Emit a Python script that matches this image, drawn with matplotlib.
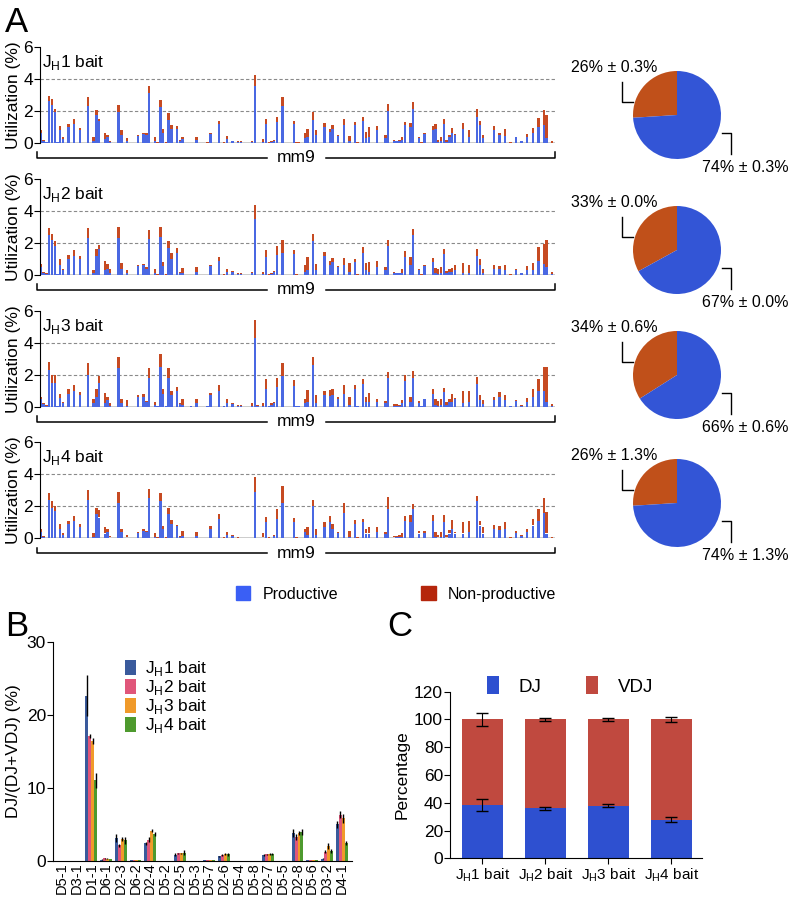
import numpy as np
import matplotlib.pyplot as plt
from matplotlib.patches import Patch

plt.rcParams['font.family'] = ['Liberation Sans', 'DejaVu Sans']
plt.rcParams['mathtext.fontset'] = 'custom'
plt.rcParams['mathtext.rm'] = 'Liberation Sans'

# ---- panel A: V gene utilization (order along mm9 locus) ----
v_slots = [0, 1, 2, 3, 4, 5, 6, 7, 8, 10,
           12, 14, 17, 19, 20, 21, 23, 24, 25, 28,
           29, 31, 35, 37, 38, 39, 41, 42, 43, 44,
           45, 46, 47, 49, 50, 51, 54, 56, 60, 61,
           64, 66, 67, 69, 71, 72, 76, 77, 78, 80,
           81, 82, 83, 84, 85, 87, 91, 92, 93, 95,
           96, 98, 99, 102, 104, 105, 107, 109, 111, 113,
           114, 116, 117, 118, 121, 124, 125, 127, 128, 129,
           130, 131, 133, 134, 136, 137, 138, 141, 142, 143,
           144, 145, 146, 147, 148, 149, 152, 154, 157, 158,
           159, 163, 165, 167, 169, 171, 173, 175, 177, 179,
           181, 182, 184]

total_jh1 = [0.8, 0.2, 0.05, 2.95, 2.75, 2.15, 0.05, 1.05, 0.35, 1.2,
             1.5, 0.95, 2.85, 0.35, 2.05, 1.5, 0.65, 0.5, 0.15, 2.4,
             0.8, 0.3, 0.5, 0.6, 0.6, 3.55, 0.4, 0.05, 2.7, 0.85,
             0.05, 1.85, 1.1, 1.05, 0.2, 0.4, 0.02, 0.4, 0.05, 0.65,
             1.4, 0.05, 0.45, 0.15, 0.1, 0.12, 0.15, 4.25, 0.02, 0.25,
             1.5, 0.05, 0.1, 0.2, 1.6, 2.9, 1.4, 0.05, 0.05, 0.6,
             0.9, 1.95, 0.8, 1.25, 0.9, 1.1, 0.5, 1.5, 0.45, 1.3,
             0.05, 1.65, 0.7, 1.0, 1.05, 0.5, 2.45, 0.2, 0.15, 0.2,
             0.4, 1.3, 1.25, 2.55, 0.4, 0.05, 0.6, 1.05, 1.2, 0.2,
             0.4, 1.5, 0.2, 0.5, 0.95, 0.55, 1.25, 0.8, 2.1, 1.4,
             0.5, 1.05, 0.65, 0.85, 0.05, 0.4, 0.15, 0.55, 0.95, 1.55,
             2.05, 1.75, 0.15]
prod_jh1 = [0.6, 0.15, 0.05, 2.6, 2.4, 1.95, 0.05, 0.8, 0.25, 1.0,
            1.2, 0.8, 2.3, 0.1, 1.75, 1.35, 0.25, 0.4, 0.05, 1.95,
            0.5, 0.1, 0.45, 0.55, 0.5, 3.1, 0.1, 0.03, 2.25, 0.6,
            0.03, 1.45, 0.9, 0.85, 0.15, 0.25, 0.02, 0.2, 0.03, 0.55,
            1.2, 0.03, 0.25, 0.15, 0.05, 0.05, 0.05, 3.55, 0.02, 0.05,
            1.2, 0.03, 0.05, 0.15, 1.3, 2.3, 1.2, 0.03, 0.03, 0.3,
            0.4, 1.45, 0.5, 1.0, 0.7, 0.9, 0.45, 1.15, 0.1, 1.1,
            0.03, 1.35, 0.3, 0.4, 0.8, 0.3, 2.0, 0.1, 0.1, 0.1,
            0.2, 1.1, 1.0, 2.1, 0.3, 0.03, 0.55, 0.8, 0.9, 0.05,
            0.1, 1.2, 0.05, 0.4, 0.6, 0.5, 0.9, 0.35, 1.6, 1.1,
            0.3, 0.8, 0.5, 0.45, 0.03, 0.35, 0.1, 0.35, 0.6, 1.0,
            1.1, 0.3, 0.02]

total_jh2 = [0.7, 0.2, 0.1, 2.95, 2.55, 2.1, 0.05, 1.0, 0.4, 1.25,
             1.55, 1.2, 2.95, 0.3, 1.6, 1.9, 0.9, 0.7, 0.4, 3.0,
             0.75, 0.3, 0.65, 0.7, 0.5, 2.8, 0.35, 0.05, 3.0, 0.8,
             0.04, 2.15, 1.35, 1.7, 0.2, 0.45, 0.02, 0.5, 0.02, 0.6,
             1.15, 0.05, 0.4, 0.25, 0.1, 0.15, 0.2, 4.4, 0.02, 0.2,
             1.55, 0.05, 0.1, 0.25, 1.8, 2.2, 1.55, 0.05, 0.03, 0.6,
             1.1, 2.55, 0.7, 1.45, 0.85, 1.05, 0.55, 1.05, 0.75, 1.0,
             0.05, 1.75, 0.75, 0.8, 0.85, 0.5, 2.2, 0.2, 0.15, 0.15,
             0.35, 1.5, 1.15, 2.9, 0.4, 0.05, 0.6, 1.05, 0.45, 0.35,
             0.5, 1.6, 0.25, 0.4, 0.45, 0.6, 0.75, 0.65, 1.6, 1.0,
             0.35, 0.65, 0.55, 0.6, 0.05, 0.4, 0.15, 0.55, 0.75, 1.75,
             1.95, 2.2, 0.2]
prod_jh2 = [0.5, 0.15, 0.05, 2.5, 2.2, 1.8, 0.05, 0.65, 0.3, 1.0,
            1.2, 1.0, 2.3, 0.1, 1.2, 1.6, 0.3, 0.4, 0.1, 2.3,
            0.4, 0.1, 0.55, 0.6, 0.4, 2.25, 0.1, 0.03, 2.4, 0.55,
            0.02, 1.7, 1.0, 1.35, 0.15, 0.1, 0.02, 0.2, 0.02, 0.55,
            0.9, 0.03, 0.2, 0.2, 0.05, 0.05, 0.1, 3.5, 0.02, 0.05,
            1.15, 0.03, 0.05, 0.2, 1.25, 1.4, 1.3, 0.03, 0.02, 0.2,
            0.3, 2.1, 0.3, 1.2, 0.6, 0.8, 0.5, 0.6, 0.2, 0.8,
            0.03, 1.4, 0.3, 0.2, 0.5, 0.3, 1.8, 0.1, 0.1, 0.1,
            0.1, 1.1, 0.6, 2.5, 0.3, 0.03, 0.55, 0.8, 0.1, 0.05,
            0.1, 1.3, 0.1, 0.2, 0.2, 0.3, 0.1, 0.1, 1.2, 0.6,
            0.1, 0.4, 0.4, 0.3, 0.03, 0.3, 0.1, 0.3, 0.3, 0.9,
            0.7, 0.5, 0.05]

total_jh3 = [0.6, 0.2, 0.1, 2.8, 2.0, 1.95, 0.05, 0.8, 0.3, 1.1,
             1.35, 0.9, 2.7, 0.5, 1.1, 1.9, 0.85, 0.6, 0.25, 3.1,
             0.5, 0.4, 0.75, 0.8, 0.35, 2.4, 0.3, 0.05, 3.3, 1.1,
             0.05, 2.45, 1.0, 1.25, 0.2, 0.45, 0.02, 0.5, 0.03, 0.85,
             1.35, 0.05, 0.45, 0.2, 0.08, 0.12, 0.2, 5.45, 0.1, 0.25,
             1.7, 0.05, 0.2, 0.3, 1.8, 2.7, 1.65, 0.05, 0.03, 0.5,
             1.05, 3.1, 0.7, 1.0, 1.05, 1.1, 0.6, 1.35, 0.6, 1.35,
             0.05, 1.7, 0.6, 0.85, 0.5, 0.35, 2.15, 0.15, 0.15, 0.12,
             0.4, 2.0, 0.6, 2.25, 0.35, 0.05, 0.5, 1.1, 0.5, 0.35,
             0.5, 1.15, 0.3, 0.5, 0.8, 0.55, 1.0, 0.95, 1.85, 0.7,
             0.4, 0.6, 0.9, 0.7, 0.05, 0.4, 0.1, 0.55, 1.1, 1.7,
             2.45, 2.45, 0.15]
prod_jh3 = [0.45, 0.15, 0.05, 2.3, 1.5, 1.5, 0.05, 0.55, 0.2, 0.8,
            1.0, 0.75, 2.0, 0.2, 0.6, 1.5, 0.2, 0.4, 0.05, 2.4,
            0.25, 0.05, 0.6, 0.6, 0.3, 1.8, 0.1, 0.03, 2.5, 0.8,
            0.03, 1.8, 0.75, 1.0, 0.15, 0.1, 0.02, 0.2, 0.02, 0.7,
            1.0, 0.03, 0.2, 0.15, 0.04, 0.05, 0.05, 4.3, 0.05, 0.05,
            1.1, 0.03, 0.1, 0.2, 1.2, 1.9, 1.3, 0.03, 0.02, 0.2,
            0.3, 2.6, 0.2, 0.7, 0.65, 0.7, 0.45, 0.8, 0.1, 1.1,
            0.03, 1.4, 0.3, 0.3, 0.3, 0.2, 1.8, 0.05, 0.05, 0.05,
            0.2, 1.6, 0.3, 1.8, 0.2, 0.03, 0.45, 0.8, 0.1, 0.05,
            0.1, 0.9, 0.1, 0.3, 0.3, 0.45, 0.2, 0.3, 1.4, 0.4,
            0.15, 0.4, 0.6, 0.4, 0.03, 0.35, 0.05, 0.3, 0.6, 1.0,
            1.0, 0.3, 0.05]

total_jh4 = [0.55, 0.15, 0.1, 2.8, 2.3, 2.0, 0.05, 0.9, 0.3, 1.1,
             1.4, 0.9, 3.0, 0.3, 1.9, 1.75, 0.7, 0.6, 0.15, 2.9,
             0.6, 0.2, 0.4, 0.55, 0.45, 3.1, 0.3, 0.05, 2.8, 0.75,
             0.05, 1.9, 1.15, 0.85, 0.15, 0.45, 0.02, 0.4, 0.03, 0.75,
             1.5, 0.05, 0.4, 0.2, 0.05, 0.1, 0.1, 3.8, 0.02, 0.3,
             1.35, 0.05, 0.1, 0.2, 1.85, 3.25, 1.25, 0.05, 0.03, 0.6,
             0.7, 2.4, 0.55, 1.0, 1.4, 0.9, 0.4, 2.2, 0.45, 1.15,
             0.05, 1.2, 0.55, 0.7, 0.7, 0.4, 2.6, 0.15, 0.15, 0.2,
             0.35, 1.4, 1.45, 2.15, 0.45, 0.1, 0.45, 1.45, 0.4, 0.2,
             0.4, 1.45, 0.2, 0.5, 1.15, 0.4, 1.0, 1.05, 2.65, 1.1,
             0.7, 0.85, 0.75, 1.0, 0.05, 0.45, 0.2, 0.6, 1.2, 1.8,
             2.5, 1.65, 0.05]
prod_jh4 = [0.4, 0.1, 0.05, 2.4, 1.9, 1.7, 0.05, 0.6, 0.2, 0.9,
            1.1, 0.7, 2.4, 0.1, 1.5, 1.3, 0.3, 0.4, 0.05, 2.2,
            0.4, 0.05, 0.35, 0.45, 0.4, 2.5, 0.1, 0.03, 2.3, 0.6,
            0.03, 1.5, 0.9, 0.75, 0.1, 0.15, 0.02, 0.15, 0.02, 0.6,
            1.2, 0.03, 0.2, 0.15, 0.03, 0.05, 0.05, 2.9, 0.02, 0.05,
            1.0, 0.03, 0.05, 0.15, 1.2, 2.2, 1.0, 0.03, 0.02, 0.4,
            0.2, 2.0, 0.2, 0.7, 1.0, 0.6, 0.35, 1.6, 0.1, 0.9,
            0.03, 1.0, 0.3, 0.3, 0.4, 0.25, 1.8, 0.05, 0.1, 0.1,
            0.1, 1.1, 1.0, 1.8, 0.3, 0.05, 0.35, 1.1, 0.1, 0.05,
            0.1, 1.0, 0.05, 0.3, 0.6, 0.3, 0.3, 0.4, 2.3, 0.8,
            0.3, 0.6, 0.5, 0.6, 0.03, 0.35, 0.15, 0.4, 0.8, 1.1,
            1.6, 0.3, 0.03]

pie_nonprod = [26, 33, 34, 26]
pie_prod = [74, 67, 66, 74]
pie_err = [0.3, 0.0, 0.6, 1.3]

# ---- panel B ----
d_genes = ['D5-1', 'D3-1', 'D1-1', 'D6-1', 'D2-3', 'D6-2', 'D2-4', 'D5-2', 'D2-5', 'D5-3',
           'D5-7', 'D2-6', 'D5-4', 'D5-8', 'D2-7', 'D5-5', 'D2-8', 'D5-6', 'D3-2', 'D4-1']
dj_jh1 = [0, 0, 22.6, 0.15, 3.1, 0.05, 2.4, 0, 0.8, 0, 0.03, 0.6, 0, 0, 0.75, 0, 3.8, 0.05, 0.3, 5.0]
dj_jh2 = [0, 0, 17.1, 0.35, 2.1, 0.05, 2.9, 0, 1.0, 0, 0.03, 0.8, 0, 0, 0.85, 0, 3.2, 0.05, 1.2, 6.3]
dj_jh3 = [0, 0, 16.4, 0.3, 3.0, 0.05, 4.1, 0, 1.0, 0, 0.03, 0.9, 0, 0, 0.9, 0, 3.8, 0.05, 2.0, 5.8]
dj_jh4 = [0, 0, 11.0, 0.25, 2.8, 0.05, 3.7, 0, 1.1, 0, 0.03, 0.9, 0, 0, 0.9, 0, 3.9, 0.05, 1.3, 2.4]
err_jh1 = [0, 0, 2.8, 0.05, 0.5, 0, 0.2, 0, 0.2, 0, 0, 0.1, 0, 0, 0.1, 0, 0.6, 0, 0.1, 0.5]
err_jh2 = [0, 0, 0.3, 0.05, 0.2, 0, 0.3, 0, 0.1, 0, 0, 0.1, 0, 0, 0.1, 0, 0.4, 0, 0.2, 0.5]
err_jh3 = [0, 0, 0.4, 0.05, 0.3, 0, 0.2, 0, 0.1, 0, 0, 0.1, 0, 0, 0.1, 0, 0.3, 0, 0.4, 0.6]
err_jh4 = [0, 0, 1.0, 0.05, 0.5, 0, 0.3, 0, 0.3, 0, 0, 0.2, 0, 0, 0.1, 0, 0.4, 0, 0.3, 0.3]

# ---- panel C ----
baits = ['J$_\\mathregular{H}$1 bait', 'J$_\\mathregular{H}$2 bait',
         'J$_\\mathregular{H}$3 bait', 'J$_\\mathregular{H}$4 bait']
dj_pct = [38.6, 36.0, 38.0, 27.8]
dj_pct_err = [4.3, 1.0, 1.0, 1.9]
vdj_pct = [61.4, 64.0, 62.0, 72.2]
vdj_pct_err = [4.4, 1.0, 1.0, 1.7]

W, H = 793, 897
fig = plt.figure(figsize=(W / 100, H / 100), dpi=100)


def px_axes(x0, y0, x1, y1):
    # axes from pixel box (top-left origin)
    return fig.add_axes([x0 / W, 1 - y1 / H, (x1 - x0) / W, (y1 - y0) / H])


blue_a = '#4a68e2'
red_a = '#c64a22'
pie_blue = '#3355d6'
pie_red = '#c0501a'
fs = 11.5

totals = [total_jh1, total_jh2, total_jh3, total_jh4]
prods = [prod_jh1, prod_jh2, prod_jh3, prod_jh4]
zero_y = [143, 275, 406.7, 538.3]
pie_cy = [115, 250, 375, 503]

for i in range(4):
    y0 = zero_y[i]
    ax = px_axes(40, y0 - 96, 555, y0)
    tot = np.array(totals[i])
    prod = np.array(prods[i])
    ax.bar(v_slots, prod, width=0.85, color=blue_a, linewidth=0, zorder=2)
    ax.bar(v_slots, tot - prod, bottom=prod, width=0.85, color=red_a, linewidth=0, zorder=2)
    ax.set_xlim(-0.3, 185)
    ax.set_ylim(0, 6)
    ax.set_yticks([0, 2, 4, 6])
    ax.set_xticks([])
    for yv in (2, 4):
        ax.axhline(yv, color='#8a8a8a', ls=(0, (3, 2)), lw=0.8, zorder=0)
    ax.axhline(0, color='#c8c8c8', lw=2, zorder=1)
    for s in ('top', 'right', 'bottom'):
        ax.spines[s].set_visible(False)
    ax.spines['left'].set_linewidth(0.8)
    ax.tick_params(axis='y', labelsize=fs + 1, length=4, width=0.8, pad=1)
    ax.set_ylabel('Utilization (%)', fontsize=fs + 1, labelpad=2)
    ax.text(0.004, 0.84, 'J$_\\mathregular{H}$%d bait' % (i + 1), transform=ax.transAxes,
            fontsize=fs + 1, va='center', ha='left')
    # mm9 bracket
    by = -0.156
    ax.plot([-0.006, -0.006, 0.44], [by + 0.06, by, by], color='k', lw=1.1,
            transform=ax.transAxes, clip_on=False)
    ax.plot([0.555, 1.0, 1.0], [by, by, by + 0.06], color='k', lw=1.1,
            transform=ax.transAxes, clip_on=False)
    ax.text(0.497, by, 'mm9', transform=ax.transAxes, fontsize=fs + 1,
            ha='center', va='center')

    # pie
    cy = pie_cy[i]
    pa = px_axes(633, cy - 44, 721, cy + 44)
    pa.pie([pie_nonprod[i], pie_prod[i]], colors=[pie_red, pie_blue], startangle=90,
           counterclock=True, radius=1, wedgeprops=dict(linewidth=0))
    pa.set_xlim(-1, 1)
    pa.set_ylim(-1, 1)
    pa.plot([-0.99, -1.25, -1.25], [0.29, 0.29, 0.75], color='k', lw=1, clip_on=False)
    pa.plot([1.02, 1.23, 1.23], [-0.41, -0.41, -0.89], color='k', lw=1, clip_on=False)
    pa.text(-1.42, 1.09, '%d%% ± %.1f%%' % (pie_nonprod[i], pie_err[i]), fontsize=fs,
            ha='center', va='center')
    pa.text(1.56, -1.19, '%d%% ± %.1f%%' % (pie_prod[i], pie_err[i]), fontsize=fs,
            ha='center', va='center')

fig.legend(handles=[Patch(color='#3a5ff5', label='Productive'),
                    Patch(color='#b5260c', label='Non-productive')],
           loc='center', bbox_to_anchor=(396 / W, 1 - 594 / H), ncol=2, frameon=False,
           fontsize=fs, handlelength=0.9, handleheight=0.9, handletextpad=0.75,
           columnspacing=5.2)

# ---- panel B ----
axb = px_axes(53, 641.7, 352, 860.7)
xb = np.arange(len(d_genes))
b_cols = ['#3a5a9c', '#e0567a', '#f09a2a', '#4e9a2e']
b_vals = [dj_jh1, dj_jh2, dj_jh3, dj_jh4]
b_errs = [err_jh1, err_jh2, err_jh3, err_jh4]
for k in range(4):
    axb.bar(xb + (k - 1.5) * 0.2, b_vals[k], width=0.2, color=b_cols[k], linewidth=0,
            yerr=b_errs[k], error_kw=dict(ecolor='k', elinewidth=1, capsize=0),
            label='J$_\\mathregular{H}$%d bait' % (k + 1))
axb.set_xlim(-0.6, 19.7)
axb.set_ylim(0, 30)
axb.set_yticks([0, 10, 20, 30])
axb.set_xticks(xb)
axb.set_xticklabels(d_genes, rotation=90, fontsize=10.5)
axb.tick_params(axis='y', labelsize=fs + 1, length=4, width=0.8, pad=1)
axb.tick_params(axis='x', length=0, pad=1)
for s in ('top', 'right'):
    axb.spines[s].set_visible(False)
axb.spines['left'].set_linewidth(0.8)
axb.spines['bottom'].set_linewidth(0.8)
axb.set_ylabel('DJ/(DJ+VDJ) (%)', fontsize=fs + 1, labelpad=4)
axb.legend(loc='upper left', bbox_to_anchor=(0.24, 0.92), frameon=False, fontsize=fs + 1,
           handlelength=0.65, handleheight=1.0, handletextpad=0.5, labelspacing=0,
           borderaxespad=0, borderpad=0)

# ---- panel C ----
axc = px_axes(450, 691.7, 701.7, 858.3)
xc = np.arange(len(baits))
axc.bar(xc, dj_pct, width=0.66, color='#2e50d0', linewidth=0, label='DJ')
axc.bar(xc, vdj_pct, bottom=dj_pct, width=0.66, color='#c0493f', linewidth=0, label='VDJ')
axc.errorbar(xc, dj_pct, yerr=dj_pct_err, fmt='none', ecolor='k', elinewidth=0.8, capsize=4)
axc.errorbar(xc, np.array(dj_pct) + np.array(vdj_pct), yerr=vdj_pct_err, fmt='none',
             ecolor='k', elinewidth=0.8, capsize=4)
axc.set_xlim(-0.515, 3.48)
axc.set_ylim(0, 120)
axc.set_yticks(range(0, 121, 20))
axc.set_xticks(xc)
axc.set_xticklabels(baits, fontsize=fs - 0.5)
axc.tick_params(axis='y', labelsize=fs + 1, length=4, width=0.8, pad=1)
axc.tick_params(axis='x', length=4, width=0.8, pad=2)
for s in ('top', 'right'):
    axc.spines[s].set_visible(False)
axc.set_ylabel('Percentage', fontsize=fs + 1, labelpad=3)
axc.legend(loc='center', bbox_to_anchor=(0.477, 1.034), ncol=2, frameon=False,
           fontsize=fs + 2, handlelength=0.65, handleheight=1.1, handletextpad=1.05,
           columnspacing=2.4, borderaxespad=0, borderpad=0)

# panel letters
fig.text(5 / W, 1 - 22 / H, 'A', fontsize=25, va='center', ha='left')
fig.text(5 / W, 1 - 627 / H, 'B', fontsize=25, va='center', ha='left')
fig.text(387 / W, 1 - 627 / H, 'C', fontsize=25, va='center', ha='left')

fig.savefig('out.png', dpi=100)
